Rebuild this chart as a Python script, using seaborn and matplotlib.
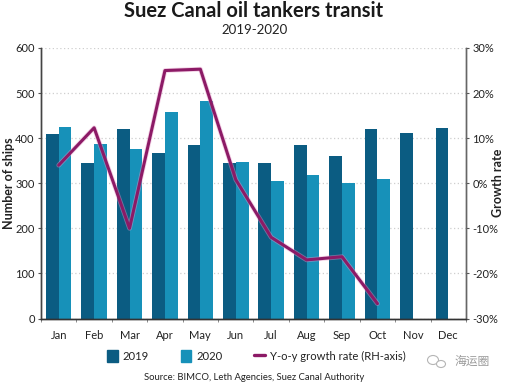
import pandas as pd
import numpy as np
import matplotlib
matplotlib.use('Agg')
import matplotlib.pyplot as plt
import matplotlib.patheffects as pe
import seaborn as sns
from matplotlib.patches import Patch, Ellipse
from matplotlib.lines import Line2D

months = ['Jan', 'Feb', 'Mar', 'Apr', 'May', 'Jun', 'Jul', 'Aug', 'Sep', 'Oct', 'Nov', 'Dec']
ships_2019 = [409, 344, 420, 366, 385, 345, 346, 384, 360, 421, 411, 423]
ships_2020 = [425, 386, 377, 457, 482, 348, 306, 318, 301, 309, np.nan, np.nan]
growth = [4.0, 12.3, -10.0, 25.0, 25.3, 0.8, -12.0, -17.0, -16.3, -26.7]
left_ticks = [0, 100, 200, 300, 400, 500, 600]
right_ticks = [-30, -20, -10, 0, 10, 20, 30]

color_2019 = '#0b5c82'
color_2020 = '#1791b9'
color_line = '#8c1a66'
color_text = '#222222'

sns.set_theme(style='white')
plt.rcParams['font.family'] = ['Lato', 'Noto Sans CJK SC', 'DejaVu Sans']

df = pd.DataFrame({
    'month': months * 2,
    'year': ['2019'] * 12 + ['2020'] * 12,
    'ships': ships_2019 + ships_2020,
})

fig = plt.figure(figsize=(5.05, 3.83), dpi=100)
ax = fig.add_axes([41 / 505, 1 - 318.5 / 383, 425 / 505, 270.5 / 383])

sns.barplot(data=df, x='month', y='ships', hue='year', order=months,
            palette=[color_2019, color_2020], width=0.72, gap=0, linewidth=0,
            saturation=1, legend=False, ax=ax)
ax.set_xlim(-0.5, 11.5)
ax.set_ylim(0, 600)
ax.set_yticks(left_ticks)
ax.set_xticks(np.arange(-0.5, 12), minor=True)
ax.yaxis.grid(True, linestyle=(0, (1, 2)), color='#cfcfcf', linewidth=0.9)
ax.set_axisbelow(True)
ax.set_xlabel('')
ax.set_ylabel('Number of ships', fontsize=9, fontweight='bold', color=color_text)
ax.yaxis.set_label_coords((15 - 41) / 425, 0.5)
ax.tick_params(axis='y', labelsize=8, length=2.5, width=0.8, pad=2, left=True,
               labelcolor=color_text, color='#555555')
ax.tick_params(axis='x', labelsize=8, length=0, pad=8, labelcolor=color_text)
ax.tick_params(axis='x', which='minor', bottom=True, length=2, width=0.6, color='#777777')

ax2 = ax.twinx()
sns.lineplot(x=list(range(len(growth))), y=growth, color=color_line, linewidth=2.2, ax=ax2,
             legend=False, path_effects=[pe.withStroke(linewidth=3.4, foreground='#e59ac8', alpha=0.45)])
ax2.set_ylim(-30, 30)
ax2.set_yticks(right_ticks)
ax2.set_yticklabels([f'{t}%' for t in right_ticks])
ax2.tick_params(axis='y', labelsize=8, length=2.5, width=0.8, pad=2, right=True,
                labelcolor=color_text, color='#555555')
ax2.set_ylabel('Growth rate', fontsize=9, fontweight='bold', color=color_text)
ax2.yaxis.set_label_coords((492 - 41) / 425, 0.5)
ax2.grid(False)

for a in (ax, ax2):
    a.spines['top'].set_visible(False)
    a.spines['left'].set_color('#444444')
    a.spines['right'].set_color('#666666')
    a.spines['bottom'].set_color('#333333')
    for s in ('left', 'right', 'bottom'):
        a.spines[s].set_linewidth(1.0)

fig.text(254 / 505, 1 - 11 / 383, 'Suez Canal oil tankers transit', ha='center', va='center',
         fontsize=14.5, fontweight='bold', color='#1a1a1a')
fig.text(255 / 505, 1 - 29.5 / 383, '2019-2020', ha='center', va='center', fontsize=9.5, color=color_text)

handles = [Patch(color=color_2019, label='2019'), Patch(color=color_2020, label='2020'),
           Line2D([0], [0], color=color_line, linewidth=2.4, label='Y-o-y growth rate (RH-axis)')]
fig.legend(handles=handles, ncol=3, frameon=False, fontsize=8.1,
           loc='center left', bbox_to_anchor=(107 / 505, 1 - 356 / 383),
           borderpad=0, borderaxespad=0,
           handlelength=0.97, handleheight=1.2, handletextpad=0.43, columnspacing=2.8,
           labelcolor=color_text)
fig.text(254.5 / 505, 1 - 377 / 383, 'Source: BIMCO, Leth Agencies, Suez Canal Authority',
         ha='center', va='center', fontsize=6.8, color=color_text)

# watermark bottom right
fig.text(472 / 505, 1 - 361 / 383, '海运圈', ha='center', va='center', fontsize=8.5, color='#9a9a9a')
for cx, cy, w, h in [(433, 360, 11, 9), (441, 364, 9, 7)]:
    fig.add_artist(Ellipse((cx / 505, 1 - cy / 383), w / 505, h / 383, transform=fig.transFigure,
                           facecolor='white', edgecolor='#b5b5b5', linewidth=0.8))

fig.savefig('out.png', dpi=100, facecolor='white')
